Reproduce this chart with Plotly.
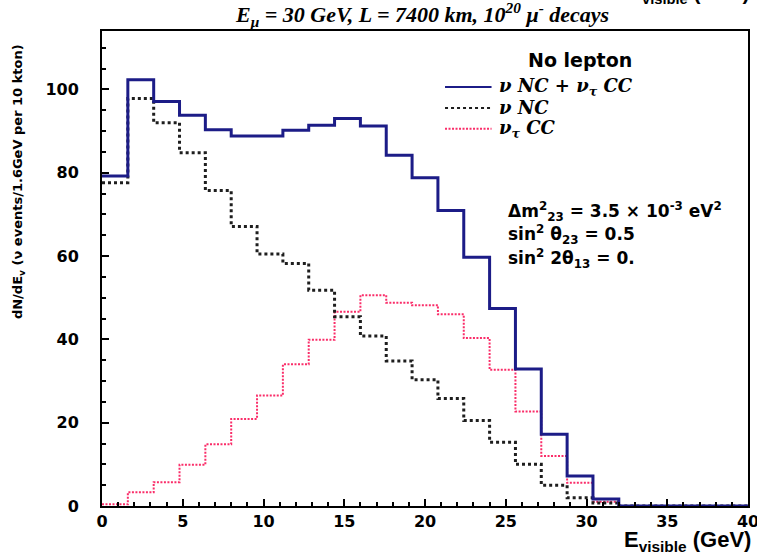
import plotly.graph_objects as go

# ---- data ----
bin_width = 1.6
bin_edges = [round(i * bin_width, 2) for i in range(26)]  # 0 .. 40 GeV, 25 bins

total_nc_taucc = [79.2, 102.3, 97.1, 93.8, 90.3, 88.8, 88.8, 90.2, 91.4, 93.0,
                  91.2, 84.2, 78.8, 70.9, 59.7, 47.4, 32.9, 17.2, 7.2, 1.7,
                  0, 0, 0, 0, 0]
nu_nc = [77.6, 97.8, 92.0, 84.8, 75.7, 67.1, 60.5, 58.2, 51.8, 45.4,
         40.8, 34.8, 30.3, 25.8, 20.5, 15.3, 10.0, 5.0, 2.0, 0.7,
         0, 0, 0, 0, 0]
nutau_cc = [0.4, 3.3, 5.7, 9.9, 14.8, 20.9, 26.5, 34.0, 39.9, 46.6,
            50.6, 48.8, 48.2, 46.0, 40.3, 32.7, 22.7, 12.0, 5.6, 1.0,
            0, 0, 0, 0, 0]

series_names = ["<b><i>ν NC + ν<sub>τ</sub> CC</i></b>",
                "<b><i>ν NC</i></b>",
                "<b><i>ν<sub>τ</sub> CC</i></b>"]

x_ticks = [0, 5, 10, 15, 20, 25, 30, 35, 40]
y_ticks = [0, 20, 40, 60, 80, 100]


def step_xy(vals):
    xs = list(bin_edges[:-1]) + [bin_edges[-1]]
    ys = list(vals) + [vals[-1]]
    return xs, ys


fig = go.Figure()

styles = [
    dict(color="rgb(28,28,135)", width=3, dash="solid"),
    dict(color="rgb(30,30,30)", width=3, dash="dot"),
    dict(color="rgb(250,45,105)", width=2, dash="2px,1.5px"),
]
all_series = [total_nc_taucc, nu_nc, nutau_cc]
# draw order: red, black, then blue on top
for idx in [2, 1, 0]:
    xs, ys = step_xy(all_series[idx])
    fig.add_trace(go.Scatter(
        x=xs, y=ys, mode="lines", line_shape="hv",
        line=styles[idx], name=series_names[idx], showlegend=False,
    ))

axis_font = dict(family="DejaVu Sans", size=16, color="black", weight="bold")

fig.update_layout(
    width=757, height=557,
    margin=dict(l=102, r=9, t=31, b=51, autoexpand=False),
    paper_bgcolor="white", plot_bgcolor="white",
    showlegend=False,
    xaxis=dict(
        range=[0, 40], tickvals=x_ticks, ticktext=[str(v) for v in x_ticks],
        ticks="inside", ticklen=7, tickwidth=2, tickcolor="black",
        minor=dict(dtick=1, ticks="inside", ticklen=4, tickwidth=2, tickcolor="black"),
        showline=True, linecolor="black", linewidth=2, mirror=True,
        showgrid=False, zeroline=False, tickfont=axis_font,
        ticklabeloverflow="allow", automargin=False,
    ),
    yaxis=dict(
        range=[0, 114], tickvals=y_ticks, ticktext=[str(v) for v in y_ticks],
        ticks="inside", ticklen=7, tickwidth=2, tickcolor="black",
        minor=dict(dtick=5, ticks="inside", ticklen=4, tickwidth=2, tickcolor="black"),
        showline=True, linecolor="black", linewidth=2, mirror=True,
        showgrid=False, zeroline=False, tickfont=axis_font, ticklabelstandoff=18,
        automargin=False,
    ),
)

# manual legend (sample lines + labels), placed in paper coordinates
legend_y = [0.882, 0.838, 0.794]
for idx in range(3):
    st = styles[idx]
    fig.add_shape(type="line", xref="paper", yref="paper",
                  x0=0.531, x1=0.603, y0=legend_y[idx], y1=legend_y[idx],
                  line=dict(color=st["color"], width=2, dash=st["dash"]))
    fig.add_annotation(text=series_names[idx], x=0.611, y=legend_y[idx],
                       xref="paper", yref="paper", xanchor="left", yanchor="middle",
                       showarrow=False,
                       font=dict(family="DejaVu Serif", size=18, color="black"))

annots = [
    dict(text="<b><i>E<sub>μ</sub> = 30 GeV, L = 7400 km, 10<sup>20</sup> μ<sup>-</sup> decays</i></b>",
         x=0.495, y=1.0, yshift=-1, xref="paper", yref="paper", xanchor="center", yanchor="bottom",
         font=dict(family="Liberation Serif", size=22, color="black")),
    dict(text="<b>E<sub>visible</sub> (GeV)</b>",
         x=1.006, y=1.077, xref="paper", yref="paper", xanchor="right", yanchor="middle",
         font=dict(family="Liberation Sans", size=21, color="black")),
    dict(text="<b>E<sub>visible</sub> (GeV)</b>",
         x=1.008, y=-0.074, xref="paper", yref="paper", xanchor="right", yanchor="middle",
         font=dict(family="Liberation Sans", size=22, color="black")),
    dict(text="<b>dN/dE<sub>v</sub> (ν events/1.6GeV per 10 kton)</b>",
         x=-0.130, y=0.682, xref="paper", yref="paper", xanchor="center", yanchor="middle",
         textangle=-90, font=dict(family="DejaVu Sans", size=13, color="black")),
    dict(text="<b>No lepton</b>",
         x=0.74, y=0.939, xref="paper", yref="paper", xanchor="center", yanchor="middle",
         font=dict(family="DejaVu Sans", size=19, color="black")),
    dict(text="<b>Δm<sup>2</sup><sub>23</sub> = 3.5 × 10<sup>-3</sup> eV<sup>2</sup></b>",
         x=0.625, y=0.62, xref="paper", yref="paper", xanchor="left", yanchor="middle",
         font=dict(family="DejaVu Sans", size=17, color="black")),
    dict(text="<b>sin<sup>2</sup> θ<sub>23</sub> = 0.5</b>",
         x=0.625, y=0.572, xref="paper", yref="paper", xanchor="left", yanchor="middle",
         font=dict(family="DejaVu Sans", size=17, color="black")),
    dict(text="<b>sin<sup>2</sup> 2θ<sub>13</sub> = 0.</b>",
         x=0.625, y=0.522, xref="paper", yref="paper", xanchor="left", yanchor="middle",
         font=dict(family="DejaVu Sans", size=17, color="black")),
]
for a in annots:
    a["showarrow"] = False
    fig.add_annotation(**a)

fig.write_html("out.html",
               config={"displayModeBar": False},
               post_script="document.body.style.margin='0';document.body.style.padding='0';")
